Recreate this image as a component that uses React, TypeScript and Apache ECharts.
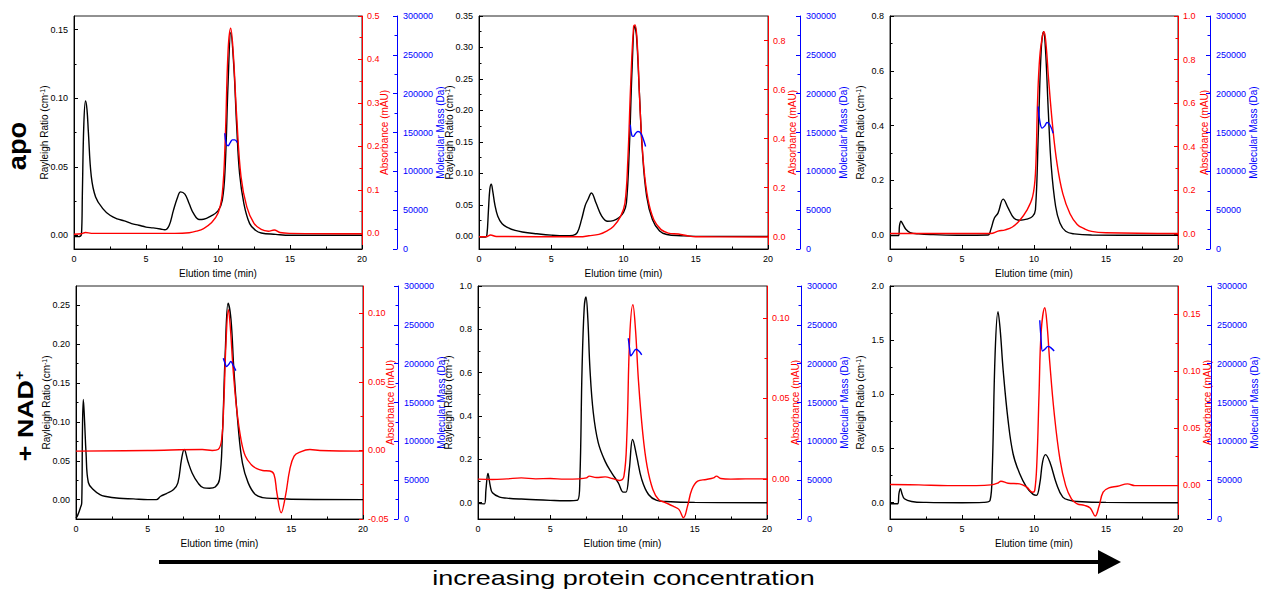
import React, { useEffect, useRef } from "react";
import * as echarts from "echarts";

const FONT = "'Liberation Sans', Arial, Helvetica, sans-serif";

// ---------- tick labels ----------
const xTickLabels = [0, 5, 10, 15, 20];
const massTicks = [0, 50000, 100000, 150000, 200000, 250000, 300000];

const apo1RayTicks = [0, 0.05, 0.1, 0.15];
const apo1RayMinor = [0.025, 0.075, 0.125];
const apo1AbsTicks = [0, 0.1, 0.2, 0.3, 0.4, 0.5];
const apo1AbsMinor = [0.05, 0.15, 0.25, 0.35, 0.45];

const apo2RayTicks = [0, 0.05, 0.1, 0.15, 0.2, 0.25, 0.3, 0.35];
const apo2RayMinor = [0.025, 0.075, 0.125, 0.175, 0.225, 0.275, 0.325];
const apo2AbsTicks = [0, 0.2, 0.4, 0.6, 0.8];
const apo2AbsMinor = [0.1, 0.3, 0.5, 0.7];

const apo3RayTicks = [0, 0.2, 0.4, 0.6, 0.8];
const apo3RayMinor = [0.1, 0.3, 0.5, 0.7];
const apo3AbsTicks = [0, 0.2, 0.4, 0.6, 0.8, 1.0];
const apo3AbsMinor = [0.1, 0.3, 0.5, 0.7, 0.9];

const nad1RayTicks = [0, 0.05, 0.1, 0.15, 0.2, 0.25];
const nad1RayMinor = [0.025, 0.075, 0.125, 0.175, 0.225];
const nad1AbsTicks = [-0.05, 0, 0.05, 0.1];
const nad1AbsMinor = [-0.025, 0.025, 0.075];

const nad2RayTicks = [0, 0.2, 0.4, 0.6, 0.8, 1.0];
const nad2RayMinor = [0.1, 0.3, 0.5, 0.7, 0.9];
const nad2AbsTicks = [0, 0.05, 0.1];
const nad2AbsMinor = [0.025, 0.075];

const nad3RayTicks = [0, 0.5, 1.0, 1.5, 2.0];
const nad3RayMinor = [0.25, 0.75, 1.25, 1.75];
const nad3AbsTicks = [0, 0.05, 0.1, 0.15];
const nad3AbsMinor = [0.025, 0.075, 0.125];

// ---------- series values (time in min) ----------
// apo, lowest concentration
const apo1RayT = [0, 0.3, 0.52, 0.58, 0.68, 0.8, 0.9, 1.0, 1.2, 1.5, 2, 2.5, 3, 3.5, 4, 4.5, 5, 5.5, 6, 6.3, 6.6, 6.9, 7.2, 7.4, 7.7, 8.0, 8.3, 8.7, 9.0, 9.5, 10.0, 10.3, 10.5, 10.7, 10.89, 11.1, 11.3, 11.5, 11.8, 12.2, 12.6, 13, 14, 15, 20];
const apo1RayV = [-0.001, -0.001, 0.001, 0.03, 0.08, 0.098, 0.092, 0.075, 0.043, 0.028, 0.0195, 0.0146, 0.012, 0.0105, 0.0085, 0.0073, 0.006, 0.0054, 0.0046, 0.004, 0.007, 0.018, 0.028, 0.0317, 0.030, 0.023, 0.016, 0.0115, 0.0117, 0.014, 0.0178, 0.0256, 0.05, 0.111, 0.148, 0.123, 0.079, 0.045, 0.023, 0.0085, 0.0037, 0.0017, 0.0007, 0, 0];
const apo1AbsT = [0, 0.5, 0.8, 1.2, 5, 7, 8, 8.5, 9, 9.5, 10, 10.3, 10.5, 10.7, 10.88, 11.05, 11.3, 11.6, 12, 12.5, 13, 13.5, 13.9, 14.3, 15, 20];
const apo1AbsV = [-0.002, -0.001, 0.002, 0, 0, 0, 0.0015, 0.005, 0.011, 0.023, 0.046, 0.092, 0.215, 0.42, 0.472, 0.42, 0.268, 0.13, 0.061, 0.023, 0.009, 0.005, 0.0077, 0.002, 0, -0.001];
const apo1MassT = [10.47, 10.58, 10.7, 10.85, 11.0, 11.17, 11.33];
const apo1MassV = [149000, 135000, 133000, 137000, 140500, 140500, 137000];

// apo, middle concentration
const apo2RayT = [0, 0.45, 0.55, 0.65, 0.75, 0.85, 0.95, 1.1, 1.3, 1.6, 2, 2.5, 3, 4, 5, 6, 6.5, 6.8, 7.1, 7.35, 7.55, 7.78, 8.1, 8.5, 8.9, 9.3, 9.7, 10.0, 10.2, 10.4, 10.6, 10.77, 10.9, 11.1, 11.3, 11.6, 12.0, 12.5, 13, 14, 15, 20];
const apo2RayV = [-0.001, -0.001, 0.003, 0.04, 0.075, 0.083, 0.072, 0.05, 0.032, 0.02, 0.014, 0.0095, 0.007, 0.0042, 0.002, 0.001, 0.0016, 0.006, 0.027, 0.049, 0.059, 0.069, 0.053, 0.032, 0.024, 0.025, 0.030, 0.038, 0.053, 0.138, 0.27, 0.334, 0.318, 0.228, 0.138, 0.064, 0.027, 0.0085, 0.003, 0.001, 0, 0];
const apo2AbsT = [0, 0.5, 0.8, 1.2, 7, 7.6, 8.3, 8.8, 9.3, 9.8, 10.1, 10.3, 10.5, 10.7, 10.8, 10.95, 11.15, 11.4, 11.7, 12.1, 12.6, 13.1, 13.8, 14.5, 15, 20];
const apo2AbsV = [0, 0, 0.007, 0.001, 0, 0.004, 0.0095, 0.022, 0.042, 0.083, 0.137, 0.314, 0.626, 0.857, 0.864, 0.79, 0.518, 0.287, 0.151, 0.069, 0.029, 0.015, 0.011, 0.003, 0, -0.001];
const apo2MassT = [10.47, 10.58, 10.68, 10.82, 11.0, 11.2, 11.38, 11.53];
const apo2MassV = [160000, 146000, 145000, 148500, 151300, 149000, 141000, 132000];

// apo, highest concentration
const apo3RayT = [0, 0.6, 0.66, 0.76, 0.9, 1.1, 1.4, 2, 3, 5, 6.8, 7.0, 7.25, 7.5, 7.86, 8.2, 8.6, 9.0, 9.5, 9.9, 10.1, 10.3, 10.5, 10.66, 10.8, 11.0, 11.2, 11.5, 11.8, 12.2, 12.8, 14, 20];
const apo3RayV = [-0.001, -0.001, 0.035, 0.051, 0.04, 0.022, 0.01, 0.005, 0.0024, 0, 0.001, 0.021, 0.063, 0.081, 0.132, 0.10, 0.063, 0.055, 0.059, 0.069, 0.093, 0.373, 0.676, 0.743, 0.676, 0.445, 0.251, 0.106, 0.045, 0.0146, 0.005, 0.001, 0];
const apo3AbsT = [0, 7, 7.5, 8, 8.5, 9, 9.5, 9.9, 10.1, 10.25, 10.4, 10.6, 10.7, 10.85, 11, 11.3, 11.6, 12, 12.5, 13, 13.5, 14, 15, 20];
const apo3AbsV = [0.0015, 0.0015, 0.012, 0.018, 0.031, 0.061, 0.107, 0.169, 0.276, 0.613, 0.813, 0.913, 0.928, 0.859, 0.721, 0.49, 0.322, 0.184, 0.092, 0.043, 0.023, 0.0107, 0.0046, 0.0015];
const apo3MassT = [10.29, 10.4, 10.57, 10.75, 10.91, 11.1, 11.33];
const apo3MassV = [183400, 165000, 155600, 158500, 162900, 160000, 149100];

// + NAD+, lowest concentration
const nad1RayT = [0, 0.1, 0.3, 0.4, 0.45, 0.51, 0.6, 0.7, 0.86, 1.2, 1.67, 2, 3, 4, 5, 5.6, 5.9, 6.3, 6.8, 7.1, 7.35, 7.54, 7.8, 8.1, 8.5, 8.9, 9.3, 9.7, 10.0, 10.2, 10.4, 10.6, 10.8, 11.0, 11.3, 11.6, 12.0, 12.5, 13, 14, 15, 20];
const nad1RayV = [-0.0236, -0.021, -0.011, -0.004, 0.09, 0.129, 0.10, 0.06, 0.022, 0.013, 0.0064, 0.0043, 0.0017, 0.0009, 0, 0, 0.0043, 0.0077, 0.0129, 0.0215, 0.0515, 0.0644, 0.049, 0.034, 0.0215, 0.015, 0.0146, 0.0163, 0.026, 0.082, 0.189, 0.253, 0.232, 0.168, 0.0945, 0.047, 0.0215, 0.0064, 0.0026, 0.0013, 0.0004, 0];
const nad1AbsT = [0, 5, 8.8, 9.5, 9.9, 10.15, 10.3, 10.45, 10.62, 10.75, 10.95, 11.2, 11.5, 11.8, 12.2, 12.6, 13.0, 13.5, 13.8, 14.0, 14.3, 14.6, 14.9, 15.2, 15.6, 16.3, 17, 20];
const nad1AbsV = [-0.0005, 0, 0.0007, 0, 0.0007, 0.008, 0.0347, 0.078, 0.1027, 0.0905, 0.059, 0.030, 0.008, -0.0041, -0.0102, -0.0133, -0.0146, -0.015, -0.0175, -0.031, -0.0454, -0.033, -0.0138, -0.0041, -0.0012, 0.0007, 0, -0.0005];
const nad1MassT = [10.26, 10.38, 10.49, 10.64, 10.79, 10.95, 11.14];
const nad1MassV = [207000, 201000, 196300, 199000, 202700, 198000, 191100];

// + NAD+, middle concentration
const nad2RayT = [0, 0.45, 0.55, 0.69, 0.85, 1.0, 1.5, 2, 3, 4, 5, 6, 6.9, 7.05, 7.2, 7.35, 7.47, 7.6, 7.75, 7.98, 8.32, 8.79, 9.25, 9.71, 10.06, 10.24, 10.47, 10.7, 10.98, 11.33, 11.8, 12.37, 13, 15, 20];
const nad2RayV = [-0.003, -0.005, 0.06, 0.135, 0.077, 0.046, 0.026, 0.0215, 0.017, 0.014, 0.011, 0.009, 0.012, 0.108, 0.615, 0.9, 0.95, 0.85, 0.615, 0.415, 0.277, 0.192, 0.138, 0.092, 0.049, 0.049, 0.154, 0.292, 0.215, 0.108, 0.038, 0.011, 0.006, 0.0015, 0];
const nad2AbsT = [0, 1, 2, 3, 4, 5, 6, 7, 7.5, 7.7, 8.2, 8.8, 9.3, 9.8, 10.1, 10.3, 10.5, 10.72, 10.9, 11.1, 11.4, 11.7, 12.1, 12.5, 13.0, 13.5, 13.9, 14.22, 14.5, 14.8, 15.2, 15.8, 16.3, 16.5, 16.8, 17.5, 18.5, 20];
const nad2AbsV = [-0.0002, -0.0004, 0, 0.0006, 0, 0.0002, -0.0002, 0, 0.0006, 0.0017, 0.0008, 0.0012, 0.0002, -0.001, 0.0017, 0.0265, 0.0886, 0.1083, 0.0928, 0.0617, 0.0286, 0.0079, -0.0066, -0.0128, -0.0149, -0.017, -0.019, -0.0242, -0.017, -0.0066, -0.0014, -0.0004, 0.0006, 0.0017, 0.0002, -0.0002, 0, 0];
const nad2MassT = [10.4, 10.5, 10.57, 10.7, 10.94, 11.15, 11.33];
const nad2MassV = [232700, 218000, 210000, 213000, 218600, 216000, 211300];

// + NAD+, highest concentration
const nad3RayT = [0, 0.55, 0.62, 0.72, 0.85, 1.0, 1.5, 2.5, 5, 6.5, 6.95, 7.1, 7.3, 7.5, 7.65, 7.86, 8.2, 8.55, 9.0, 9.48, 9.94, 10.17, 10.4, 10.6, 10.8, 11.1, 11.56, 12.0, 12.5, 13, 15, 20];
const nad3RayV = [-0.009, -0.009, 0.083, 0.129, 0.077, 0.037, 0.012, 0.003, 0, 0.003, 0.0216, 0.299, 1.377, 1.763, 1.6, 1.22, 0.76, 0.45, 0.27, 0.145, 0.077, 0.068, 0.176, 0.38, 0.444, 0.376, 0.176, 0.052, 0.0216, 0.012, 0.003, 0];
const nad3AbsT = [0, 2, 4, 6, 7, 7.5, 7.7, 8.2, 9.0, 9.5, 9.9, 10.05, 10.2, 10.35, 10.5, 10.75, 10.9, 11.1, 11.4, 11.8, 12.2, 12.6, 13.0, 13.5, 13.9, 14.25, 14.5, 14.8, 15.2, 15.8, 16.5, 17, 18, 20];
const nad3AbsV = [0.0003, 0, -0.0006, -0.0006, 0, 0.0017, 0.0032, 0.0015, 0.0009, -0.002, -0.0064, -0.005, 0.02, 0.08, 0.135, 0.1558, 0.142, 0.107, 0.0635, 0.0227, -0.0006, -0.0122, -0.0166, -0.018, -0.0204, -0.0274, -0.0195, -0.0064, -0.0026, -0.0012, 0.0009, -0.0006, -0.0006, -0.0006];
const nad3MassT = [10.4, 10.48, 10.59, 10.75, 10.98, 11.2, 11.4];
const nad3MassV = [256000, 235000, 216300, 218500, 222300, 220000, 216300];

// ---------- panel layout ----------
type Panel = {
  box: number[];
  ray: number[][];
  abs: number[][];
  mass: number[][];
  rayRange: number[];
  absRange: number[];
  rayTicks: number[];
  rayMinor: number[];
  absTicks: number[];
  absMinor: number[];
  rayDec: number;
  absDec: number;
  absGap: number;
  massOffset: number;
};

const panels: Panel[] = [
  { box: [74, 16, 288, 233], ray: [apo1RayT, apo1RayV], abs: [apo1AbsT, apo1AbsV], mass: [apo1MassT, apo1MassV], rayRange: [-0.01, 0.16], absRange: [-0.036, 0.5], rayTicks: apo1RayTicks, rayMinor: apo1RayMinor, absTicks: apo1AbsTicks, absMinor: apo1AbsMinor, rayDec: 2, absDec: 1, absGap: 17, massOffset: 35 },
  { box: [479, 16, 289, 233], ray: [apo2RayT, apo2RayV], abs: [apo2AbsT, apo2AbsV], mass: [apo2MassT, apo2MassV], rayRange: [-0.02, 0.35], absRange: [-0.05, 0.9], rayTicks: apo2RayTicks, rayMinor: apo2RayMinor, absTicks: apo2AbsTicks, absMinor: apo2AbsMinor, rayDec: 2, absDec: 1, absGap: 19, massOffset: 32 },
  { box: [890, 16, 288, 233], ray: [apo3RayT, apo3RayV], abs: [apo3AbsT, apo3AbsV], mass: [apo3MassT, apo3MassV], rayRange: [-0.05, 0.8], absRange: [-0.07, 1.0], rayTicks: apo3RayTicks, rayMinor: apo3RayMinor, absTicks: apo3AbsTicks, absMinor: apo3AbsMinor, rayDec: 1, absDec: 1, absGap: 21, massOffset: 32 },
  { box: [76, 286, 287, 233], ray: [nad1RayT, nad1RayV], abs: [nad1AbsT, nad1AbsV], mass: [nad1MassT, nad1MassV], rayRange: [-0.025, 0.275], absRange: [-0.05, 0.12], rayTicks: nad1RayTicks, rayMinor: nad1RayMinor, absTicks: nad1AbsTicks, absMinor: nad1AbsMinor, rayDec: 2, absDec: 2, absGap: 22, massOffset: 35 },
  { box: [478, 286, 289, 233], ray: [nad2RayT, nad2RayV], abs: [nad2AbsT, nad2AbsV], mass: [nad2MassT, nad2MassV], rayRange: [-0.075, 1.0], absRange: [-0.025, 0.12], rayTicks: nad2RayTicks, rayMinor: nad2RayMinor, absTicks: nad2AbsTicks, absMinor: nad2AbsMinor, rayDec: 1, absDec: 2, absGap: 23, massOffset: 34 },
  { box: [890, 286, 288, 233], ray: [nad3RayT, nad3RayV], abs: [nad3AbsT, nad3AbsV], mass: [nad3MassT, nad3MassV], rayRange: [-0.15, 2.0], absRange: [-0.03, 0.175], rayTicks: nad3RayTicks, rayMinor: nad3RayMinor, absTicks: nad3AbsTicks, absMinor: nad3AbsMinor, rayDec: 1, absDec: 2, absGap: 24, massOffset: 33 },
];

const BLACK = "#000000";
const RED = "#ff0000";
const BLUE = "#0000ff";

function zip(t: number[], v: number[]) {
  return t.map((x, i) => [x, v[i]]);
}

function buildOption() {
  const grid: any[] = [];
  const xAxis: any[] = [];
  const yAxis: any[] = [];
  const series: any[] = [];

  panels.forEach((p, i) => {
    grid.push({
      left: p.box[0], top: p.box[1], width: p.box[2], height: p.box[3],
      show: true, borderColor: "#222", borderWidth: 1, backgroundColor: "transparent",
      containLabel: false, outerBoundsMode: "none",
    });
    xAxis.push({
      gridIndex: i, type: "value", min: xTickLabels[0], max: xTickLabels[xTickLabels.length - 1], interval: 5,
      axisLine: { show: true, onZero: false, lineStyle: { color: BLACK, width: 1 } },
      axisTick: { show: true, inside: true, length: 4, lineStyle: { color: BLACK } },
      minorTick: { show: true, splitNumber: 2, length: 2.5, lineStyle: { color: BLACK } },
      axisLabel: { fontSize: 9, color: BLACK, margin: 5, fontFamily: FONT, formatter: (v: number) => String(v) },
      splitLine: { show: false }, minorSplitLine: { show: false },
      name: "Elution time (min)", nameLocation: "middle", nameGap: 19, nameMoveOverlap: false,
      nameTextStyle: { fontSize: 10, color: BLACK, fontFamily: FONT },
    });
    const yi = yAxis.length;
    // left (Rayleigh)
    yAxis.push({
      gridIndex: i, type: "value", position: "left", min: p.rayRange[0], max: p.rayRange[1],
      axisLine: { show: true, onZero: false, lineStyle: { color: BLACK, width: 1 } },
      axisTick: { show: true, inside: true, length: 4, customValues: p.rayTicks, lineStyle: { color: BLACK } },
      axisLabel: { fontSize: 9, color: BLACK, margin: 6, fontFamily: FONT, customValues: p.rayTicks, formatter: (v: number) => v.toFixed(p.rayDec) },
      splitLine: { show: false },
      name: "Rayleigh Ratio (cm{s|-1})", nameLocation: "middle", nameGap: 25, nameRotate: 90, nameMoveOverlap: false,
      nameTextStyle: { fontSize: 10, color: BLACK, fontFamily: FONT, rich: { s: { fontSize: 7, color: BLACK, fontFamily: FONT, verticalAlign: "top" } } },
    });
    yAxis.push({
      gridIndex: i, type: "value", position: "left", min: p.rayRange[0], max: p.rayRange[1],
      axisLine: { show: false, onZero: false },
      axisTick: { show: true, inside: true, length: 2.5, customValues: p.rayMinor, lineStyle: { color: BLACK } },
      axisLabel: { show: false }, splitLine: { show: false },
    });
    // right (Absorbance)
    yAxis.push({
      gridIndex: i, type: "value", position: "right", offset: 0, min: p.absRange[0], max: p.absRange[1],
      axisLine: { show: true, onZero: false, lineStyle: { color: RED, width: 1 } },
      axisTick: { show: true, inside: true, length: 4, customValues: p.absTicks, lineStyle: { color: RED } },
      axisLabel: { fontSize: 9, color: RED, margin: 5, fontFamily: FONT, customValues: p.absTicks, formatter: (v: number) => v.toFixed(p.absDec) },
      splitLine: { show: false },
      name: "Absorbance (mAU)", nameLocation: "middle", nameGap: p.absGap, nameRotate: 90, nameMoveOverlap: false,
      nameTextStyle: { fontSize: 10, color: RED, fontFamily: FONT },
    });
    yAxis.push({
      gridIndex: i, type: "value", position: "right", offset: 0, min: p.absRange[0], max: p.absRange[1],
      axisLine: { show: false, onZero: false },
      axisTick: { show: true, inside: true, length: 2.5, customValues: p.absMinor, lineStyle: { color: RED } },
      axisLabel: { show: false }, splitLine: { show: false },
    });
    // far right (Molecular mass)
    yAxis.push({
      gridIndex: i, type: "value", position: "right", offset: p.massOffset,
      min: massTicks[0], max: massTicks[massTicks.length - 1], interval: 50000,
      axisLine: { show: true, onZero: false, lineStyle: { color: BLUE, width: 1 } },
      axisTick: { show: true, inside: true, length: 4, lineStyle: { color: BLUE } },
      minorTick: { show: true, splitNumber: 2, length: 2.5, lineStyle: { color: BLUE } },
      axisLabel: { fontSize: 9, color: BLUE, margin: 6, fontFamily: FONT, formatter: (v: number) => String(v) },
      splitLine: { show: false }, minorSplitLine: { show: false },
      name: "Molecular Mass (Da)", nameLocation: "middle", nameGap: 38, nameRotate: 90, nameMoveOverlap: false,
      nameTextStyle: { fontSize: 10, color: BLUE, fontFamily: FONT },
    });

    const common = { type: "line", xAxisIndex: i, showSymbol: false, symbol: "none", smooth: 0.4, silent: true };
    series.push({ ...common, yAxisIndex: yi, data: zip(p.ray[0], p.ray[1]), lineStyle: { color: BLACK, width: 1.4 }, itemStyle: { color: BLACK }, z: 2 });
    series.push({ ...common, yAxisIndex: yi + 2, data: zip(p.abs[0], p.abs[1]), lineStyle: { color: RED, width: 1.4 }, itemStyle: { color: RED }, z: 3 });
    series.push({ ...common, yAxisIndex: yi + 4, data: zip(p.mass[0], p.mass[1]), lineStyle: { color: BLUE, width: 1.4 }, itemStyle: { color: BLUE }, z: 4 });
  });

  const graphic: any[] = [
    {
      type: "text", x: 17.6, y: 146, rotation: Math.PI / 2, scaleX: 1.05,
      style: { text: "apo", fontSize: 26, fontWeight: "bold", fontFamily: FONT, fill: BLACK, align: "center", verticalAlign: "middle" },
    },
    {
      type: "text", x: 25.3, y: 416, rotation: Math.PI / 2, scaleX: 1.22,
      style: {
        text: "{m|+ NAD}{s|+}", align: "center", verticalAlign: "middle", fill: BLACK,
        rich: {
          m: { fontSize: 22, fontWeight: "bold", fontFamily: FONT, fill: BLACK, lineHeight: 24 },
          s: { fontSize: 13, fontWeight: "bold", fontFamily: FONT, fill: BLACK, lineHeight: 24, verticalAlign: "top" },
        },
      },
    },
    { type: "line", shape: { x1: 159, y1: 562, x2: 1100, y2: 562 }, style: { stroke: BLACK, lineWidth: 4 } },
    { type: "polygon", shape: { points: [[1098, 550], [1121, 562], [1098, 574]] }, style: { fill: BLACK } },
    {
      type: "text", x: 623.5, y: 578, scaleX: 1.35,
      style: { text: "increasing protein concentration", fontSize: 20, fontFamily: FONT, fill: BLACK, align: "center", verticalAlign: "middle" },
    },
  ];

  return {
    animation: false,
    backgroundColor: "#ffffff",
    textStyle: { fontFamily: FONT },
    grid, xAxis, yAxis, series, graphic,
  };
}

export default function App() {
  const ref = useRef<HTMLDivElement>(null);
  useEffect(() => {
    if (!ref.current) return;
    const chart = echarts.init(ref.current, undefined, { renderer: "svg" });
    chart.setOption(buildOption() as any);
    return () => chart.dispose();
  }, []);
  return (
    <div
      ref={ref}
      style={{ position: "absolute", left: 0, top: 0, width: 1263, height: 590, background: "#fff" }}
    />
  );
}
